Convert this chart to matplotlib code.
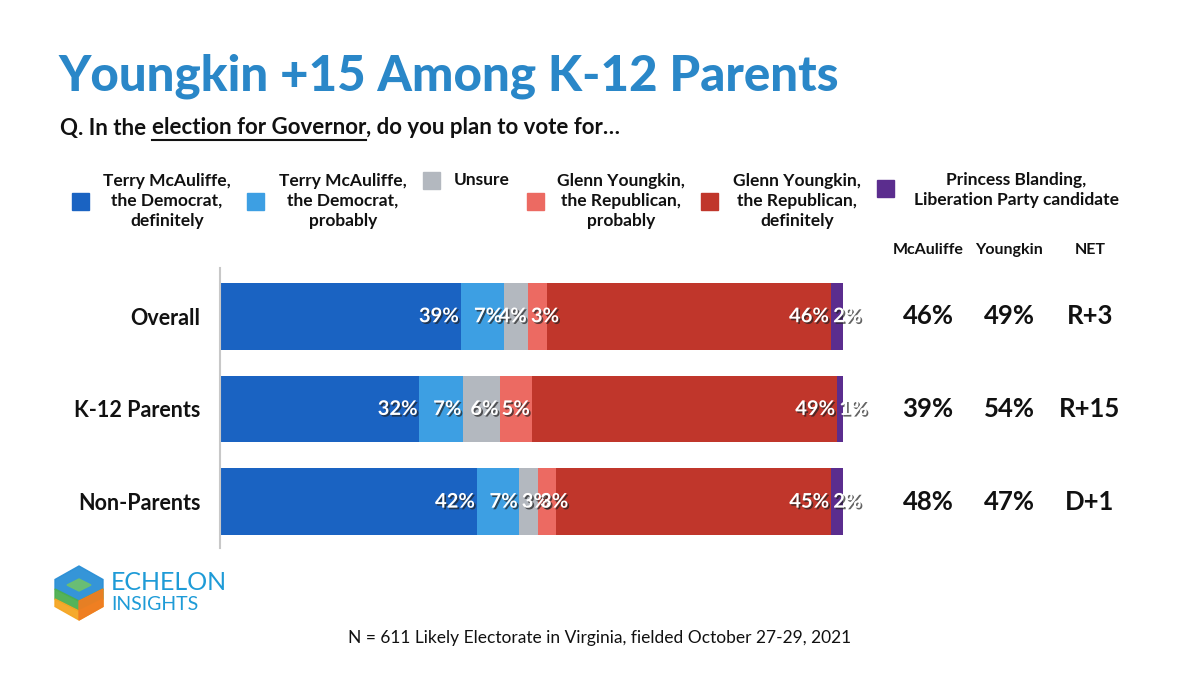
#!/usr/bin/env python3
"""Youngkin +15 among K-12 parents: stacked vote-intention bars."""

import matplotlib

matplotlib.use("Agg")
import matplotlib.patheffects as pe
import matplotlib.pyplot as plt
from matplotlib.patches import Polygon, Rectangle
from matplotlib.transforms import blended_transform_factory

plt.rcParams["font.family"] = ["Lato", "DejaVu Sans"]

GROUPS = ["Overall", "K-12 Parents", "Non-Parents"]
SERIES = [
    "Terry McAuliffe,\nthe Democrat,\ndefinitely",
    "Terry McAuliffe,\nthe Democrat,\nprobably",
    "Unsure",
    "Glenn Youngkin,\nthe Republican,\nprobably",
    "Glenn Youngkin,\nthe Republican,\ndefinitely",
    "Princess Blanding,\nLiberation Party candidate",
]
VALUES = [
    [39, 7, 4, 3, 46, 2],
    [32, 7, 6, 5, 49, 1],
    [42, 7, 3, 3, 45, 2],
]
COLORS = ["#1a63c2", "#3d9fe3", "#b3b8bf", "#ec6a62", "#c0362b", "#5b2d8e"]

MCAULIFFE = ["46%", "39%", "48%"]
YOUNGKIN = ["49%", "54%", "47%"]
NET = ["R+3", "R+15", "D+1"]
SUMMARY_HEADERS = ["McAuliffe", "Youngkin", "NET"]

TITLE = "Youngkin +15 Among K-12 Parents"
FOOTNOTE = "N = 611 Likely Electorate in Virginia, fielded October 27-29, 2021"

W, H = 1200, 675


def fx(px):
    return px / W


def fy(py):
    return 1 - py / H


fig = plt.figure(figsize=(12, 6.75), dpi=100)
fig.patch.set_facecolor("white")

# title + question
fig.text(fx(58), fy(76), TITLE, fontsize=35.5, fontweight="black", color="#2a87c8", va="center")
q_parts = ["Q. In the ", "election for Governor", ", do you plan to vote for…"]
renderer = fig.canvas.get_renderer()
x = fx(60)
for i, part in enumerate(q_parts):
    t = fig.text(x, fy(128), part, fontsize=16, fontweight="bold", color="#111111", va="center")
    bb = t.get_window_extent(renderer)
    if i == 1:
        fig.add_artist(plt.Line2D([bb.x0 / W, bb.x1 / W], [fy(140), fy(140)],
                                  color="#111111", linewidth=1.5, transform=fig.transFigure))
    x = bb.x1 / W

# legend: (square left, square centre y, text centre x, text centre y)
legend_items = [
    (72, 201, 167, 201),
    (247, 201, 343, 201),
    (423, 180, 482, 180),
    (527, 201, 621, 201),
    (701, 201, 797, 201),
    (877, 189, 1016, 190),
]
for (sx, sy, tx, ty), label, color in zip(legend_items, SERIES, COLORS):
    fig.add_artist(Rectangle((fx(sx), fy(sy + 8.5)), fx(17), 17 / H, color=color,
                             transform=fig.transFigure))
    fig.text(fx(tx), fy(ty), label, fontsize=12.5, fontweight="bold", color="#111111",
             ha="center", va="center", linespacing=1.3)

# bars
ax = fig.add_axes([fx(220), fy(548), fx(843) - fx(220), 280 / H])
shadow = [pe.SimplePatchShadow(offset=(1.2, -1.2), shadow_rgbFace="#222222", alpha=0.7), pe.Normal()]
for row, vals in enumerate(VALUES):
    total = sum(vals)
    left = 0.0
    for k, v in enumerate(vals):
        w = v * 100.0 / total
        ax.barh(row, w, left=left, height=0.72, color=COLORS[k], edgecolor="none")
        if v <= 3:
            ax.text(left + 0.4, row, f"{v}%", ha="left", va="center", color="white",
                    fontsize=14.5, fontweight="bold", path_effects=shadow)
        else:
            ax.text(left + w - 0.3, row, f"{v}%", ha="right", va="center", color="white",
                    fontsize=14.5, fontweight="bold", path_effects=shadow)
        left += w

ax.set_xlim(0, 100)
ax.set_ylim(2.5, -0.52)
ax.set_yticks(range(len(GROUPS)))
ax.set_yticklabels(GROUPS, fontsize=15.5, fontweight="bold", color="#111111")
ax.tick_params(axis="y", length=0, pad=14)
ax.set_xticks([])
for side in ["top", "right", "bottom"]:
    ax.spines[side].set_visible(False)
ax.spines["left"].set_color("#c8c8c8")
ax.spines["left"].set_linewidth(1.5)
ax.patch.set_alpha(0)

# summary columns
tr = blended_transform_factory(fig.transFigure, ax.transData)
col_x = [928, 1009, 1090]
for cx, head in zip(col_x, SUMMARY_HEADERS):
    fig.text(fx(cx), fy(250), head, fontsize=11.5, fontweight="bold", color="#111111",
             ha="center", va="center")
for row in range(len(GROUPS)):
    for cx, col in zip(col_x, [MCAULIFFE, YOUNGKIN, NET]):
        ax.text(fx(cx), row, col[row], transform=tr, fontsize=18.5, fontweight="bold",
                color="#111111", ha="center", va="center")

# logo
hx, hy, r = 79, 593, 27
for pts, col in [
    ([(hx, hy - r), (hx + 24, hy - r / 2), (hx + 24, hy - 4), (hx, hy + 8), (hx - 24, hy - 4), (hx - 24, hy - r / 2)], "#2a8fd6"),
    ([(hx - 24, hy - 4), (hx, hy + 8), (hx + 24, hy - 4), (hx + 24, hy + 6), (hx, hy + 18), (hx - 24, hy + 6)], "#4caf50"),
    ([(hx - 24, hy + 6), (hx, hy + 18), (hx + 24, hy + 6), (hx + 24, hy + r / 2), (hx, hy + r), (hx - 24, hy + r / 2)], "#f5a623"),
    ([(hx, hy + 8), (hx + 24, hy - 4), (hx + 24, hy + r / 2), (hx, hy + r)], "#ef7d22"),
    ([(hx - 12, hy - 8), (hx, hy - 14), (hx + 12, hy - 8), (hx, hy - 2)], "#6cc070"),
]:
    fig.add_artist(Polygon([(fx(a), fy(b)) for a, b in pts], closed=True, color=col,
                           transform=fig.transFigure, alpha=0.95))
fig.text(fx(111), fy(583), "ECHELON", fontsize=18, color="#1e9bd7", va="center")
fig.text(fx(111), fy(605), "INSIGHTS", fontsize=14, color="#1e9bd7", va="center")

fig.text(0.5, fy(638), FOOTNOTE, fontsize=12.5, color="#111111", ha="center", va="center")

fig.savefig("out.png", dpi=100, facecolor="white")
